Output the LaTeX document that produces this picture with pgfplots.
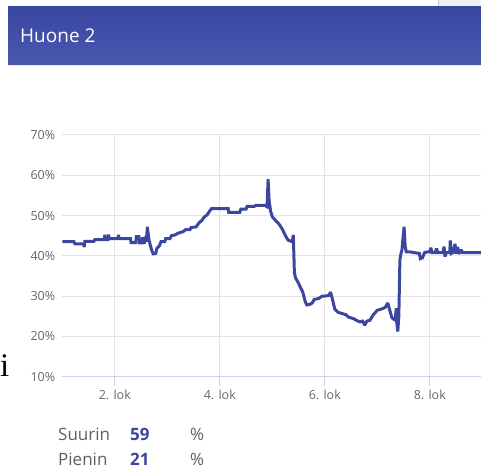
\documentclass[border=0pt]{standalone}
\usepackage{pgfplots}
\pgfplotsset{compat=1.18}
\usepackage{fontspec}
\setmainfont{Open Sans}
\newfontfamily\serifi{Liberation Serif}
\definecolor{hdtop}{RGB}{58,71,160}
\definecolor{hdbot}{RGB}{75,88,176}
\definecolor{linec}{RGB}{60,70,160}
\definecolor{gridc}{RGB}{228,228,228}
\definecolor{axc}{RGB}{204,214,235}
\definecolor{labc}{RGB}{102,102,102}
\definecolor{txtc}{RGB}{95,95,95}
\begin{document}
\begin{tikzpicture}
\useasboundingbox (0pt,0pt) rectangle (481pt,470pt);
% top-right gray tab
\fill[gray!12] (438pt,463pt) rectangle (481pt,470pt);
\draw[gray!45, line width=0.8pt] (438pt,463pt) -- (438pt,470pt);
% header
\shade[top color=hdtop, bottom color=hdbot] (8pt,405pt) rectangle (481pt,463pt);
\draw[gray!15, line width=1pt] (8pt,404.5pt) -- (481pt,404.5pt);
\node[anchor=west, inner sep=0pt, text=white, font=\fontsize{19}{22}\selectfont] at (20pt,434pt) {Huone 2};
% stray i
\node[anchor=base west, inner sep=0pt, font=\serifi\fontsize{33}{36}\selectfont] at (0pt,93pt) {i};
\begin{axis}[
  at={(62.3pt,93.3pt)}, anchor=south west,
  scale only axis, width=418.7pt, height=241.7pt,
  xmin=1, xmax=8.975, ymin=10, ymax=70,
  axis x line*=bottom, axis y line*=left,
  y axis line style={draw=none},
  x axis line style={draw=axc, line width=1pt, -},
  xtick={2,4,6,8},
  xticklabels={2. lok,4. lok,6. lok,8. lok},
  ytick={10,20,...,70},
  yticklabel={\pgfmathprintnumber{\tick}\%},
  grid=major,
  major grid style={draw=gridc, line width=1pt},
  tick align=outside,
  major tick length=9pt,
  xtick style={draw=axc, line width=1pt},
  ytick style={draw=none},
  tick label style={font=\fontsize{12.5}{14}\selectfont, text=labc},
  xticklabel style={anchor=north, inner sep=0pt, yshift=-4pt},
  yticklabel style={anchor=east, inner sep=0pt, xshift=2pt},
  /pgf/number format/assume math mode=true,
  clip=false,
]
\addplot[color=linec, line width=3pt, line join=miter, miter limit=2] coordinates {
(1.00,43.5)(1.22,43.5)(1.24,43.0)(1.40,43.0)(1.42,42.2)(1.43,43.6)(1.60,43.6)(1.62,44.0)
(1.80,44.0)(1.81,45.2)(1.82,44.0)(1.87,44.0)(1.88,45.3)(1.89,44.3)(2.06,44.3)(2.07,45.2)
(2.08,44.3)(2.30,44.3)(2.31,43.3)(2.40,43.3)(2.41,44.8)(2.46,44.8)(2.47,43.2)(2.52,43.2)
(2.53,44.6)(2.56,43.0)(2.58,44.8)(2.60,43.5)(2.62,47.2)(2.65,44.0)(2.70,41.5)(2.73,40.5)
(2.78,40.6)(2.80,41.8)(2.85,42.5)(2.88,43.5)(2.95,43.5)(2.97,44.3)(3.05,44.3)(3.08,45.0)
(3.15,45.2)(3.20,45.6)(3.30,46.0)(3.35,46.5)(3.43,46.5)(3.45,47.0)(3.55,47.2)(3.58,47.8)
(3.62,48.4)(3.66,48.8)(3.70,49.6)(3.76,50.2)(3.80,51.0)(3.84,51.7)(4.00,51.7)(4.16,51.7)
(4.17,50.8)(4.38,50.8)(4.40,51.6)(4.50,51.6)(4.52,52.3)(4.66,52.3)(4.68,52.5)(4.86,52.5)
(4.90,52.2)(4.92,59.0)(4.94,53.5)(4.97,51.0)(5.00,49.7)(5.06,48.8)(5.10,48.3)(5.15,47.5)
(5.20,46.4)(5.25,45.0)(5.30,43.9)(5.38,43.5)(5.40,45.2)(5.42,36.0)(5.44,34.6)(5.50,33.2)
(5.53,32.3)(5.58,31.0)(5.63,28.5)(5.66,27.8)(5.72,28.0)(5.76,28.3)(5.80,29.2)(5.88,29.4)
(5.95,30.0)(6.00,30.0)(6.08,30.2)(6.11,31.0)(6.14,29.5)(6.19,26.8)(6.25,26.0)(6.35,25.6)
(6.40,25.4)(6.45,24.8)(6.55,24.4)(6.60,24.0)(6.67,23.6)(6.72,23.8)(6.76,22.8)(6.80,23.8)
(6.86,24.0)(6.92,25.3)(7.00,26.5)(7.08,26.8)(7.15,27.2)(7.20,28.3)(7.23,26.8)(7.28,24.6)
(7.34,24.0)(7.36,27.0)(7.37,23.5)(7.39,21.2)(7.41,25.0)(7.43,39.0)(7.45,40.5)(7.47,41.5)
(7.49,44.5)(7.51,47.2)(7.53,42.5)(7.55,41.0)(7.62,41.0)(7.70,40.8)(7.80,40.6)(7.82,39.3)
(7.86,39.5)(7.90,40.8)(7.96,41.0)(8.00,41.0)(8.02,42.0)(8.04,40.8)(8.10,40.8)(8.13,41.8)
(8.15,40.8)(8.25,40.8)(8.27,42.3)(8.29,39.8)(8.31,40.8)(8.38,40.8)(8.39,43.8)(8.41,40.6)
(8.45,40.9)(8.48,43.0)(8.50,40.5)(8.53,42.2)(8.55,40.5)(8.60,41.5)(8.62,40.8)(8.975,40.8)
};
\end{axis}
% stats
\node[anchor=base west, inner sep=0pt, text=txtc, font=\fontsize{17}{20}\selectfont] at (58pt,29pt) {Suurin};
\node[anchor=base west, inner sep=0pt, text=linec, font=\bfseries\fontsize{17}{20}\selectfont] at (130pt,29pt) {59};
\node[anchor=base west, inner sep=0pt, text=txtc, font=\fontsize{17}{20}\selectfont] at (190pt,29pt) {\%};
\node[anchor=base west, inner sep=0pt, text=txtc, font=\fontsize{17}{20}\selectfont] at (58pt,4pt) {Pienin};
\node[anchor=base west, inner sep=0pt, text=linec, font=\bfseries\fontsize{17}{20}\selectfont] at (130pt,4pt) {21};
\node[anchor=base west, inner sep=0pt, text=txtc, font=\fontsize{17}{20}\selectfont] at (190pt,4pt) {\%};
\end{tikzpicture}
\end{document}
